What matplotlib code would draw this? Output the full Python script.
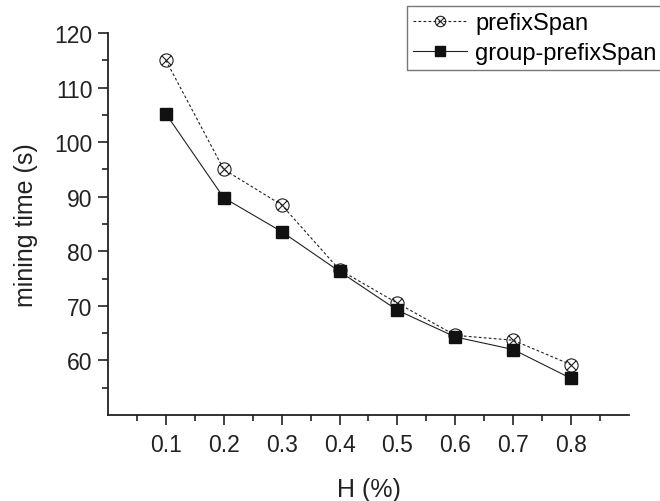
import numpy as np
import matplotlib
matplotlib.use("Agg")
import matplotlib.pyplot as plt
from matplotlib.path import Path

H = [0.1, 0.2, 0.3, 0.4, 0.5, 0.6, 0.7, 0.8]
prefix_span = [115.0, 95.0, 88.5, 76.6, 70.5, 64.6, 63.7, 59.2]
group_prefix_span = [105.2, 89.8, 83.6, 76.3, 69.2, 64.3, 62.0, 56.7]
x_ticks = [0.1, 0.2, 0.3, 0.4, 0.5, 0.6, 0.7, 0.8]
y_ticks = [60, 70, 80, 90, 100, 110, 120]

plt.rcParams['font.family'] = ['Liberation Sans', 'DejaVu Sans']

# circle with an x inside, like Origin's marker
d = 0.707
circle_x = Path.make_compound_path(
    Path.unit_circle(),
    Path([(-d, -d), (d, d)]),
    Path([(-d, d), (d, -d)]),
)

ink = '#222222'

fig = plt.figure(figsize=(6.6, 5.02), dpi=100)
ax = fig.add_axes([0.1636, 0.1713, 0.953 - 0.1636, 0.9323 - 0.1713])

ax.plot(H, prefix_span, color=ink, lw=0.8, ls=(0, (2.5, 2)),
        marker=circle_x, ms=9.5, mfc='none', mec=ink, mew=0.8,
        label='prefixSpan')
ax.plot(H, group_prefix_span, color=ink, lw=0.8, ls='-',
        marker='s', ms=8.2, mfc='#111111', mec='#111111',
        label='group-prefixSpan')

ax.set_xlim(0.0, 0.9)
ax.set_ylim(50, 120)
ax.set_xticks(x_ticks)
ax.set_xticklabels([f'{v:.1f}' for v in x_ticks])
ax.set_xticks(np.arange(0.05, 0.9, 0.1), minor=True)
ax.set_yticks(y_ticks)
ax.set_yticks(np.arange(55, 120, 10), minor=True)

for side in ['top', 'right']:
    ax.spines[side].set_visible(False)
for side in ['left', 'bottom']:
    ax.spines[side].set_linewidth(1.3)
    ax.spines[side].set_color(ink)

ax.tick_params(which='major', direction='out', length=7, width=1.2,
               labelsize=16.5, colors=ink, pad=4)
ax.tick_params(which='minor', direction='out', length=4, width=1.2, colors=ink)
ax.tick_params(axis='x', pad=6)

ax.set_xlabel('H (%)', fontsize=18, color=ink, labelpad=15)
ax.set_ylabel('mining time (s)', fontsize=18, color=ink, labelpad=12)

leg = fig.legend(loc='upper left', bbox_to_anchor=(407 / 660, 1 - 7 / 502),
                 fontsize=17, frameon=True, fancybox=False, handlelength=2.3,
                 handletextpad=0.35, borderpad=0.25, labelspacing=0.35,
                 borderaxespad=0)
leg.get_frame().set_edgecolor('#555555')
leg.get_frame().set_linewidth(1.0)
for h in leg.legend_handles:
    h.set_markersize(7.5)

fig.savefig('out.png', dpi=100)
